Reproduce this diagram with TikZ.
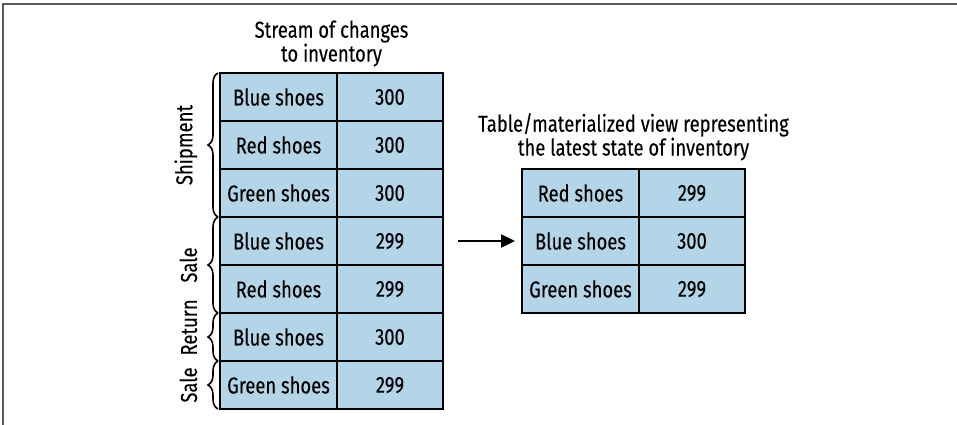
\documentclass[tikz,border=0pt]{standalone}
\usepackage{fontspec}
\setmainfont{Fira Sans}[FakeStretch=0.8,FakeBold=0.2]
\usetikzlibrary{positioning,arrows.meta,calc,decorations.pathreplacing}
\definecolor{cellblue}{RGB}{180,213,232}
\definecolor{framegray}{RGB}{90,90,90}

\begin{document}
\begin{tikzpicture}[x=1pt,y=1pt,
                  txt/.style={font=\fontsize{23}{21}\selectfont},
                  item/.style={txt,draw,line width=2pt,fill=cellblue,minimum width=117pt,minimum height=48pt,inner sep=0pt,outer sep=0pt},
                  qty/.style={item,minimum width=106pt},
                  ttl/.style={txt,align=center},
                  br/.style={decorate,decoration={brace,amplitude=10pt},line width=1.6pt},
                  brlabel/.style={txt,midway,xshift=-20pt,rotate=90,anchor=south,inner sep=0pt},
                  arr/.style={-{Triangle[length=14pt,width=13pt]},line width=2.4pt,shorten >=7pt}
                ]
                \useasboundingbox (0,0) rectangle (957,-425);
                \draw[framegray,line width=2pt] (3,-425) -- (3,-4) -- (957,-4);

                % stream of changes
                \node[item] (sname1) at (278.5,-97) {Blue shoes};
                \node[qty,right=0pt of sname1] (sqty1) {300};
                \node[item,below=0pt of sname1] (sname2) {Red shoes};
                \node[qty,right=0pt of sname2] (sqty2) {300};
                \node[item,below=0pt of sname2] (sname3) {Green shoes};
                \node[qty,right=0pt of sname3] (sqty3) {300};
                \node[item,below=0pt of sname3] (sname4) {Blue shoes};
                \node[qty,right=0pt of sname4] (sqty4) {299};
                \node[item,below=0pt of sname4] (sname5) {Red shoes};
                \node[qty,right=0pt of sname5] (sqty5) {299};
                \node[item,below=0pt of sname5] (sname6) {Blue shoes};
                \node[qty,right=0pt of sname6] (sqty6) {300};
                \node[item,below=0pt of sname6] (sname7) {Green shoes};
                \node[qty,right=0pt of sname7] (sqty7) {299};

                \coordinate (stop) at ($(sname1.north west)!0.5!(sqty1.north east)$);
                \node[ttl,above=3pt of stop] (stitle) {Stream of changes\\to inventory};

                % materialized view
                \node[item] (vname1) at (580.5,-193) {Red shoes};
                \node[qty,right=0pt of vname1] (vqty1) {299};
                \node[item,below=0pt of vname1] (vname2) {Blue shoes};
                \node[qty,right=0pt of vname2] (vqty2) {300};
                \node[item,below=0pt of vname2] (vname3) {Green shoes};
                \node[qty,right=0pt of vname3] (vqty3) {299};

                \coordinate (vtop) at ($(vname1.north west)!0.5!(vqty1.north east)$);
                \node[ttl,above=5pt of vtop] (vtitle) {Table/materialized view representing\\the latest state of inventory};

                \coordinate (arrtail) at (458,-241);
                \draw[arr] (arrtail) -- (vname2.west);

                % event kinds
                \draw[br] ($(sname3.south west)+(-2,0)$) -- node[brlabel] {Shipment} ($(sname1.north west)+(-2,0)$);
                \draw[br] ($(sname5.south west)+(-2,0)$) -- node[brlabel] {Sale} ($(sname4.north west)+(-2,0)$);
                \draw[br] ($(sname6.south west)+(-2,0)$) -- node[brlabel,pos=0.7] {Return} ($(sname6.north west)+(-2,0)$);
                \draw[br] ($(sname7.south west)+(-2,0)$) -- node[brlabel] {Sale} ($(sname7.north west)+(-2,0)$);
\end{tikzpicture}
\end{document}
